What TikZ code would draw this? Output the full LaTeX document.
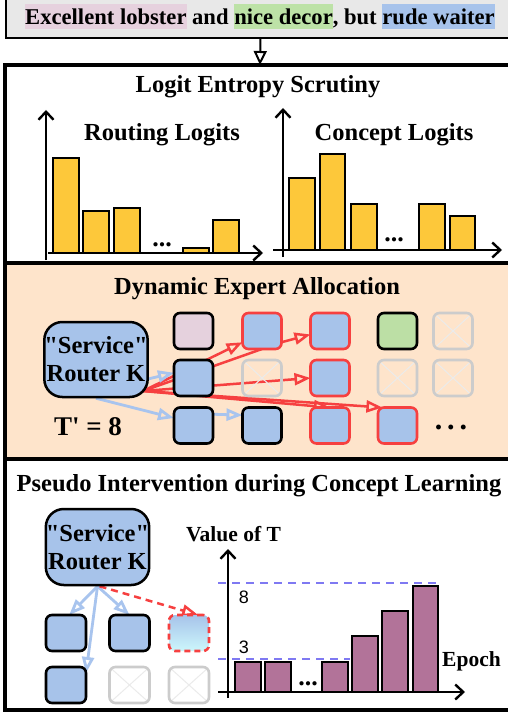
\documentclass[tikz,border=0pt]{standalone}
\usepackage{fontspec}
\setmainfont{Liberation Serif}
\newfontfamily\arialf{Liberation Sans}
\usetikzlibrary{arrows.meta,calc}
\pgfdeclarelayer{back}
\pgfdeclarelayer{edges}
\pgfsetlayers{back,edges,main}
\definecolor{topgray}{HTML}{E8E8E8}
\definecolor{hlpink}{HTML}{E6D1DE}
\definecolor{hlgreen}{HTML}{BDE2A7}
\definecolor{hlblue}{HTML}{A7C3EB}
\definecolor{bary}{HTML}{FDC83A}
\definecolor{peach}{HTML}{FEE4CB}
\definecolor{sqblue}{HTML}{A7C3EA}
\definecolor{sqpink}{HTML}{E5D1DD}
\definecolor{sqgreen}{HTML}{BCDFA5}
\definecolor{redc}{HTML}{F64040}
\definecolor{lblue}{HTML}{A8C4EE}
\definecolor{purp}{HTML}{B27399}
\definecolor{dashc}{HTML}{7F79F2}
\definecolor{cyanb}{HTML}{CCF7FC}
\definecolor{fadeg}{HTML}{CCCCCC}
\newcommand\hlstrut{\rule[-4.5pt]{0pt}{25.5pt}}
\newcommand\svc{\textquotedbl Service\textquotedbl}
\tikzset{
  secbox/.style={draw=black, line width=4pt, inner sep=0, outer sep=0, minimum width=510pt},
  title/.style={font=\fontsize{24.5}{29}\selectfont\bfseries, inner sep=0},
  lbl/.style={font=\fontsize{24.5}{29}\selectfont\bfseries, inner sep=0},
  smlbl/.style={font=\fontsize{21.5}{26}\selectfont\bfseries, inner sep=0},
  router/.style={draw=black, line width=2.5pt, fill=sqblue, rounded corners=18pt, minimum width=100pt, minimum height=75pt, inner sep=0, align=center, font=\fontsize{24.5}{28}\selectfont\bfseries},
  sq/.style={minimum width=39pt, minimum height=36pt, inner sep=0, outer sep=0, rounded corners=6pt, line width=2.6pt},
  sqbk/.style={sq, draw=black, fill=sqblue},
  sqrd/.style={sq, draw=redc, fill=sqblue},
  sqfade/.style={sq, draw=fadeg, path picture={\draw[fadeg!40, line width=1pt] (path picture bounding box.north west) -- (path picture bounding box.south east) (path picture bounding box.north east) -- (path picture bounding box.south west);}},
  barY/.style={draw=black, line width=2.2pt, fill=bary},
  barP/.style={draw=black, line width=2.2pt, fill=purp},
  axis/.style={line width=2.4pt, -{Straight Barb[length=8pt,width=15pt]}},
  redarr/.style={draw=redc, line width=2.5pt, -{Triangle[open, length=16pt, width=12pt]}},
  redln/.style={draw=redc, line width=2.5pt},
  blarr/.style={draw=lblue, line width=2.8pt, -{Triangle[open, length=16pt, width=12pt]}},
  reddash/.style={draw=redc, line width=2.5pt, dash pattern=on 7pt off 5pt, -{Triangle[open, length=16pt, width=12pt]}},
  dots/.style={font=\fontsize{26}{28}\selectfont\bfseries, inner sep=0, anchor=base},
  dashln/.style={draw=dashc, line width=2.2pt, dash pattern=on 8pt off 6pt},
}
\begin{document}
\begin{tikzpicture}[x=1pt,y=-1pt]
\useasboundingbox (0,0) rectangle (507,714);
\begin{pgfonlayer}{back}
\node[secbox, line width=2pt, fill=topgray, minimum width=509pt, minimum height=60pt, anchor=south west] (topbox) at (6,38) {};
\node[secbox, fill=white, minimum height=198pt, anchor=north west] (sec1) at (5,65) {};
\node[secbox, fill=peach, minimum height=196pt, anchor=north west] (sec2) at (5,263) {};
\node[secbox, fill=white, minimum height=251pt, anchor=north west] (sec3) at (5,459) {};
\end{pgfonlayer}
% top sentence
\node[anchor=base, inner sep=0, font=\fontsize{22.6}{27}\selectfont\bfseries] (sent) at (260,25)
  {\setlength\fboxsep{0pt}\colorbox{hlpink}{\hlstrut Excellent lobster} and \colorbox{hlgreen}{\hlstrut nice decor}, but \colorbox{hlblue}{\hlstrut rude waiter}};
\draw[line width=2pt, -{Triangle[open, length=14pt, width=13pt]}] (topbox.south) -- (sec1.north);
% section 1
\node[title, anchor=base] (t1) at (258,93) {Logit Entropy Scrutiny};
\node[lbl, anchor=base] (rl) at (162,141) {Routing Logits};
\node[lbl, anchor=base] (cl) at (394,141) {Concept Logits};
\draw[barY] (53,253) rectangle (79,158);
\draw[barY] (83,253) rectangle (109,211);
\draw[barY] (114,253) rectangle (140,208);
\draw[barY] (183,253) rectangle (209,248);
\draw[barY] (213,253) rectangle (239,220);
\node[dots] (d1) at (162,246) {...};
\draw[axis] (46,260) -- (46,110);
\draw[axis] (48,253) -- (263,253);
\draw[barY] (289,250) rectangle (315,178);
\draw[barY] (320,250) rectangle (345,154);
\draw[barY] (351,250) rectangle (377,204);
\draw[barY] (419,250) rectangle (445,204);
\draw[barY] (450,250) rectangle (475,216);
\node[dots] (d2) at (394,241) {...};
\draw[axis] (283,257) -- (283,108);
\draw[axis] (273,250) -- (502,250);
% section 2
\node[title, anchor=base] (t2) at (257,294) {Dynamic Expert Allocation};
\node[router] (r1) at (96,359.5) {\svc\\Router K};
\coordinate (src) at (143,391);
\node[sq, draw=black, fill=sqpink] (a11) at (193.5,331) {};
\node[sqrd] (a12) at (262,331) {};
\node[sqrd] (a13) at (330,331) {};
\node[sq, draw=black, fill=sqgreen] (a14) at (397.5,331) {};
\node[sqfade] (a15) at (453,331) {};
\node[sqbk] (a21) at (193.5,378) {};
\node[sqfade] (a22) at (262,378) {};
\node[sqrd] (a23) at (330,378) {};
\node[sqfade] (a24) at (397.5,378) {};
\node[sqfade] (a25) at (453,378) {};
\node[sqbk] (a31) at (193.5,425.5) {};
\node[sqbk] (a32) at (262,425.5) {};
\node[sqrd] (a33) at (330,425.5) {};
\node[sqrd] (a34) at (397.5,425.5) {};
\node[dots, font=\fontsize{30}{30}\selectfont\bfseries] (d3) at (451,429) {.\hspace{5pt}.\hspace{5pt}.};
\node[anchor=base, inner sep=0, font=\fontsize{27}{30}\selectfont\bfseries] (tp) at (88,435) {T\textquotesingle{} = 8};
\begin{pgfonlayer}{edges}
\draw[redarr] (src) -- (a12.210);
\draw[redln] (src) -- (a12.south);
\draw[redarr] (a12.-30) -- (a13.190);
\draw[redarr] (src) -- (a23.west);
\draw[redarr] (src) -- (a33.north);
\draw[redarr] (src) -- (a34.130);
\draw[blarr] (r1.-20) -- (a21.165);
\draw[blarr] (r1.south) -- (a31.159);
\draw[blarr] (a31.30) -- (a32.152);
\end{pgfonlayer}
% section 3
\node[title, anchor=base] (t3) at (259,491) {Pseudo Intervention during Concept Learning};
\node[router, minimum width=101pt, minimum height=76pt] (r2) at (97.5,547) {\svc\\Router K};
\node[sqbk, minimum width=40pt] (b11) at (66,633) {};
\node[sqbk, minimum width=40pt] (b12) at (129.5,633) {};
\node[sq, minimum width=40pt, top color=sqblue, bottom color=cyanb, draw=redc, dash pattern=on 6pt off 4pt] (b13) at (189,633) {};
\node[sqbk, minimum width=40pt] (b21) at (66,685) {};
\node[sqfade, minimum width=40pt] (b22) at (129.5,685) {};
\node[sqfade, minimum width=40pt] (b23) at (189,685) {};
\begin{pgfonlayer}{edges}
\draw[blarr] (r2.south) -- (b11.80);
\draw[blarr] (r2.south) -- (b12.north);
\draw[blarr] (r2.south) -- (b21.31);
\draw[reddash] (r2.-87) -- (b13.63);
\end{pgfonlayer}
\node[smlbl, anchor=base] (vt) at (233.5,541) {Value of T};
\node[smlbl, anchor=base west] (ep) at (442,666) {Epoch};
\draw[barP] (235,692) rectangle (261,662);
\draw[barP] (265,692) rectangle (291,662);
\draw[barP] (322,692) rectangle (348,662);
\draw[barP] (352,692) rectangle (378,636);
\draw[barP] (382,692) rectangle (408,611);
\draw[barP] (413,692) rectangle (438,586);
\node[dots] (d4) at (308,685) {...};
\draw[dashln] (218,583) -- (438,583);
\draw[dashln] (218,659) -- (350,659);
\draw[axis] (228,698) -- (228,549);
\draw[axis] (218,692) -- (465,692);
\node[anchor=base, inner sep=0, font=\arialf\fontsize{18}{20}\selectfont] (n8) at (244,603) {8};
\node[anchor=base, inner sep=0, font=\arialf\fontsize{18}{20}\selectfont] (n3) at (244,653) {3};
\end{tikzpicture}
\end{document}
